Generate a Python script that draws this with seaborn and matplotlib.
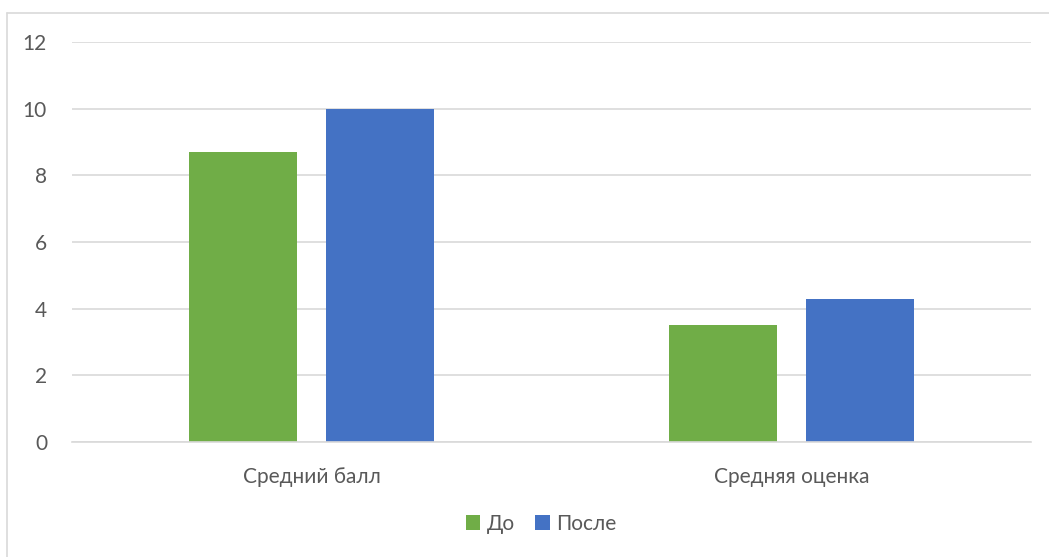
import matplotlib
matplotlib.use("Agg")
import matplotlib.pyplot as plt
import seaborn as sns
import pandas as pd
from matplotlib.lines import Line2D

categories = ["Средний балл", "Средняя оценка"]
series_names = ["До", "После"]
before = [8.7, 3.5]
after = [10.0, 4.3]
colors = ["#70AD47", "#4472C4"]
yticks = [0, 2, 4, 6, 8, 10, 12]

df = pd.DataFrame({
    "cat": categories * 2,
    "series": [series_names[0]] * 2 + [series_names[1]] * 2,
    "value": before + after,
})

sns.set_theme(style="white")
plt.rcParams["font.family"] = ["Lato", "DejaVu Sans"]
text_color = "#595959"

W, H = 1049, 557
fig = plt.figure(figsize=(W / 100, H / 100), dpi=100)
ax = fig.add_axes([72 / W, 1 - 442 / H, (1031 - 72) / W, 400 / H])

sns.barplot(data=df, x="cat", y="value", hue="series", palette=colors,
            width=0.57, gap=0.21, ax=ax, legend=True, saturation=1,
            linewidth=0)

ax.set_ylim(0, 12)
ax.set_xlim(-0.5, 1.5)
ax.set_yticks(yticks)
ax.set_yticklabels([str(t) for t in yticks])
ax.yaxis.grid(True, color="#D9D9D9", linewidth=1.2)
ax.set_axisbelow(True)
for s in ["left", "right", "top"]:
    ax.spines[s].set_visible(False)
ax.spines["bottom"].set_color("#D9D9D9")
ax.spines["bottom"].set_linewidth(1.2)
ax.set_xlabel("")
ax.set_ylabel("")
ax.tick_params(axis="both", length=0, labelsize=15, colors=text_color)
ax.tick_params(axis="x", pad=18)
ax.tick_params(axis="y", pad=18)

leg = ax.legend(loc="center", bbox_to_anchor=(541 / W, 1 - 524 / H),
                bbox_transform=fig.transFigure, ncol=2, frameon=False,
                fontsize=15, handlelength=0.7, handleheight=0.7,
                handletextpad=0.3, columnspacing=1.0)
for t in leg.get_texts():
    t.set_color(text_color)

fig.add_artist(Line2D([6.5 / W, 6.5 / W], [0, 1 - 12.5 / H], transform=fig.transFigure,
                      color="#D9D9D9", linewidth=1.2))
fig.add_artist(Line2D([6.5 / W, 1], [1 - 12.5 / H, 1 - 12.5 / H], transform=fig.transFigure,
                      color="#D9D9D9", linewidth=1.2))

fig.savefig("out.png", dpi=100)
